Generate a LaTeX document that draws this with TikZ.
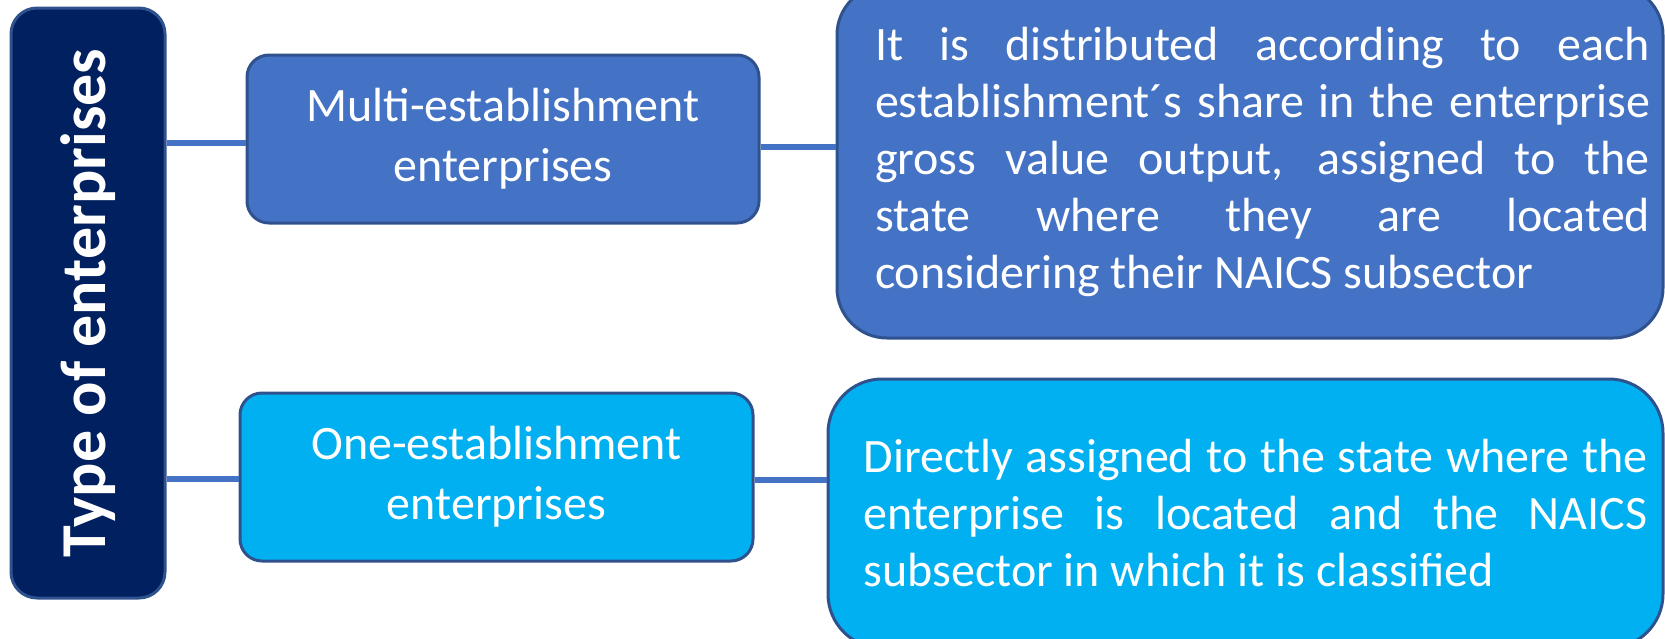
\documentclass[tikz,border=0pt]{standalone}
\usepackage{fontspec}
\setmainfont{Carlito}
\usepackage{graphicx}
\usepackage{tikz}
\definecolor{navy}{HTML}{002060}
\definecolor{midblue}{HTML}{4472C4}
\definecolor{skyblue}{HTML}{00B0F0}
\definecolor{edgeblue}{HTML}{2F528F}
\tolerance=9999
\hbadness=10000

\begin{document}
\begin{tikzpicture}[x=0.5pt,y=-0.5pt,
    box/.style={draw=edgeblue,line width=1.5pt,text=white,align=center,
      font=\fontsize{24}{30}\selectfont},
    note/.style={box,align=justify,inner xsep=4pt,font=\fontsize{24}{28.5}\selectfont},
    link/.style={draw=midblue,line width=2.75pt}]
    \useasboundingbox (0,0) rectangle (1665,638);
    \node[box,fill=navy,rounded corners=13pt,minimum width=77pt,minimum height=295pt,
      font=\fontsize{32}{38}\selectfont\bfseries] (type) at (88,303)
      {\rotatebox{90}{Type of enterprises}};
    \node[box,fill=midblue,rounded corners=11pt,minimum width=256pt,minimum height=84pt]
      (multi) at (503,139) {Multi-establishment\\enterprises};
    \node[box,fill=skyblue,rounded corners=11pt,minimum width=256.5pt,minimum height=84pt]
      (one) at (496.5,477) {One-establishment\\enterprises};
    \node[note,fill=midblue,rounded corners=25pt,minimum width=413pt,minimum height=176.5pt,
      text width=400pt] (distr) at (1250,161.5)
      {\leftskip=12.5pt It is distributed according to each\linebreak
       establishment´s share in the enterprise\linebreak
       gross value output, assigned to the\linebreak
       state where they are located\linebreak
       considering their NAICS subsector\par};
    \node[note,fill=skyblue,rounded corners=27pt,minimum width=417.5pt,minimum height=134.5pt,
      text width=402pt] (direct) at (1245.5,513.5)
      {\leftskip=10pt Directly assigned to the state where the\linebreak
       enterprise is located and the NAICS\linebreak
       subsector in which it is classified\par};
    \foreach \a/\s in {multi/-2pt,one/-1pt}
      \draw[link] ([yshift=\s]\a.west) coordinate (p) -- (p -| type.east);
    \foreach \a/\b/\s in {multi/distr/-4pt,one/direct/-1.5pt}
      \draw[link] ([yshift=\s]\a.east) coordinate (p) -- (p -| \b.west);
  \end{tikzpicture}
\end{document}
